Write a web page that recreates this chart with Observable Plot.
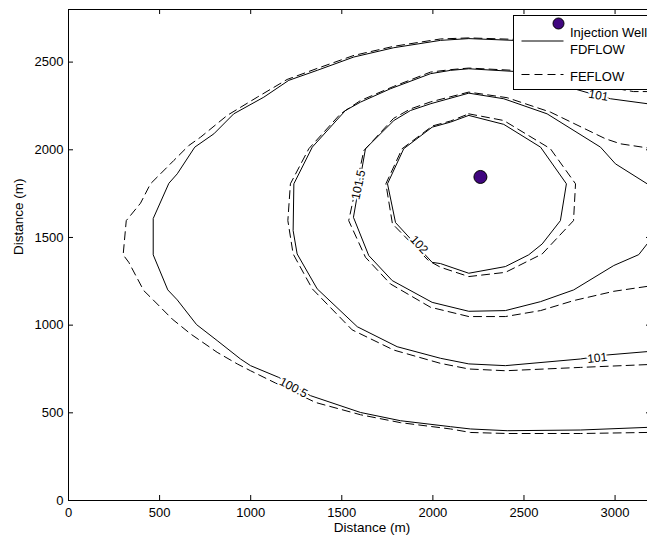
<!DOCTYPE html>
<html><head><meta charset="utf-8">
<script src="https://cdn.jsdelivr.net/npm/d3@7"></script>
<script src="https://cdn.jsdelivr.net/npm/@observablehq/plot@0.6"></script>
<style>
html,body{margin:0;padding:0;overflow:hidden;background:#fff;}
#wrap{position:relative;width:647px;height:542px;overflow:hidden;font-family:"Liberation Sans",Arial,sans-serif;}
#legend{position:absolute;left:513px;top:15px;width:200px;height:75px;border:1px solid #000;background:#fff;box-sizing:border-box;}
#legend svg{position:absolute;left:0;top:0;overflow:visible;}
</style></head><body><div id="wrap"></div>
<script>
// axis ticks
const xTicks = [0, 500, 1000, 1500, 2000, 2500, 3000];
const yTicks = [0, 500, 1000, 1500, 2000, 2500];
const axisTitleX = "Distance (m)";
const axisTitleY = "Distance (m)";
const legendLabels = ["Injection Well", "FDFLOW", "FEFLOW"];

// injection well location (m)
const well = [[2261, 1845]];

// FDFLOW contours (solid)
const fd1005 = [[3176,417],[2810,402],[2408,398],[2206,408],[2097,421],[1822,455],[1603,502],[1328,598],[1154,702],[999,769],[944,807],[816,912],[703,1003],[597,1144],[545,1201],[465,1401],[465,1608],[551,1809],[597,1863],[693,2015],[798,2091],[907,2205],[1072,2300],[1209,2396],[1365,2453],[1566,2529],[1785,2582],[2042,2624],[2197,2634],[2442,2624],[2650,2610]];
const fd101 = [[3176,849],[2957,830],[2810,807],[2398,769],[2197,779],[2042,811],[1804,877],[1585,991],[1365,1207],[1255,1406],[1233,1539],[1237,1806],[1338,2015],[1520,2224],[1603,2272],[1767,2348],[1987,2434],[2097,2453],[2197,2462],[2444,2447],[2865,2321],[2975,2291],[3176,2263]];
const fd1015 = [[3176,1463],[3130,1402],[2993,1340],[2773,1201],[2591,1134],[2398,1083],[2197,1079],[1996,1130],[1777,1254],[1648,1397],[1564,1615],[1630,2006],[1786,2167],[1877,2224],[1989,2263],[2197,2323],[2389,2291],[2627,2205],[2920,2015],[3002,1920],[3176,1806]];
const fd102 = [[2197,2196],[2389,2145],[2591,2015],[2733,1806],[2700,1596],[2600,1463],[2526,1401],[2398,1334],[2197,1296],[2042,1351],[1996,1358],[1795,1585],[1751,1806],[1840,2006],[1996,2129],[2097,2158],[2197,2196]];

// FEFLOW contours (dashed)
const fe1005 = [[3176,388],[2810,382],[2408,382],[2206,388],[2097,408],[1822,444],[1603,489],[1356,559],[1136,670],[999,740],[926,779],[816,845],[670,950],[569,1035],[459,1150],[413,1197],[331,1358],[300,1401],[317,1596],[395,1695],[450,1806],[505,1863],[578,1939],[660,2024],[725,2072],[871,2196],[1036,2300],[1200,2401],[1365,2464],[1566,2538],[1785,2590],[2042,2632],[2197,2638],[2442,2630],[2650,2615]];
const fe101 = [[3176,775],[2810,759],[2398,740],[2197,750],[2042,782],[1785,858],[1557,973],[1338,1207],[1233,1406],[1204,1596],[1218,1806],[1319,2006],[1493,2205],[1603,2281],[1784,2361],[1987,2443],[2097,2457],[2197,2466],[2444,2453],[3101,2332],[3176,2332]];
const fe1015 = [[3176,1221],[2993,1193],[2773,1140],[2591,1083],[2398,1049],[2197,1049],[1987,1102],[1767,1235],[1630,1387],[1538,1596],[1621,1995],[1784,2179],[1877,2233],[1987,2273],[2197,2329],[2408,2297],[2645,2215],[2947,2063],[3030,2034],[3176,2011]];
const fe102 = [[2197,2205],[2389,2167],[2645,2006],[2783,1806],[2772,1596],[2600,1406],[2398,1301],[2197,1277],[2042,1330],[1976,1368],[1778,1578],[1742,1806],[1831,2006],[1998,2136],[2097,2164],[2197,2205]];

// contour labels
const labelText = ["100.5", "101", "101", "101.5", "102"];
const labelX = [1235, 2902, 2909, 1592, 1924];
const labelY = [643, 812, 2310, 1800, 1459];
const labelAngle = [28, -6, 10, -78, 47];

// build tables
const contourSets = [
  {id: "fd1005", model: "FDFLOW", pts: fd1005},
  {id: "fd101", model: "FDFLOW", pts: fd101},
  {id: "fd1015", model: "FDFLOW", pts: fd1015},
  {id: "fd102", model: "FDFLOW", pts: fd102},
  {id: "fe1005", model: "FEFLOW", pts: fe1005},
  {id: "fe101", model: "FEFLOW", pts: fe101},
  {id: "fe1015", model: "FEFLOW", pts: fe1015},
  {id: "fe102", model: "FEFLOW", pts: fe102}
];
const rows = contourSets.flatMap(c => c.pts.map(([x, y]) => ({x, y, id: c.id, model: c.model})));
const labels = labelText.map((t, i) => ({t, x: labelX[i], y: labelY[i], a: labelAngle[i]}));
const dash = "8,5";
const wellColor = "#40067f";
const fmt = d => String(d);

const W = 652, H = 542, mL = 68, mR = 1, mT = 9, mB = 42;
const plotW = W - mL - mR, plotH = H - mT - mB, tickLen = 5;

const chart = Plot.plot({
  width: W, height: H,
  marginLeft: mL, marginRight: mR, marginTop: mT, marginBottom: mB,
  style: {fontFamily: "'Liberation Sans', Arial, sans-serif", fontSize: "13px", color: "black", background: "white", maxWidth: "none", overflow: "hidden"},
  x: {domain: [0, 3200]},
  y: {domain: [0, 2800]},
  marks: [
    Plot.line(rows.filter(d => d.model === "FDFLOW"), {x: "x", y: "y", z: "id", stroke: "black", strokeWidth: 1, clip: true}),
    Plot.line(rows.filter(d => d.model === "FEFLOW"), {x: "x", y: "y", z: "id", stroke: "black", strokeWidth: 1, strokeDasharray: dash, clip: true}),
    Plot.text(labels, {x: "x", y: "y", text: "t", rotate: "a", fontSize: 12, fill: "black", stroke: "white", strokeWidth: 4, paintOrder: "stroke"}),
    Plot.dot(well, {x: d => d[0], y: d => d[1], r: 6.5, fill: wellColor, stroke: "black", strokeWidth: 1}),
    Plot.frame({stroke: "black"}),
    Plot.tickX(xTicks, {x: d => d, insetTop: plotH - tickLen, stroke: "black"}),
    Plot.tickX(xTicks, {x: d => d, insetBottom: plotH - tickLen, stroke: "black"}),
    Plot.tickY(yTicks, {y: d => d, insetRight: plotW - tickLen, stroke: "black"}),
    Plot.tickY(yTicks, {y: d => d, insetLeft: plotW - tickLen, stroke: "black"}),
    Plot.axisX(xTicks, {anchor: "bottom", tickSize: 0, tickPadding: 7, label: null, tickFormat: fmt, fontSize: 13}),
    Plot.axisY(yTicks, {anchor: "left", tickSize: 0, tickPadding: 5, label: null, tickFormat: fmt, fontSize: 13}),
    Plot.text([axisTitleX], {frameAnchor: "bottom", dy: 31, dx: 12, fontSize: 13.5}),
    Plot.text([axisTitleY], {frameAnchor: "left", rotate: -90, dx: -50, fontSize: 13.5})
  ]
});
const wrap = document.getElementById("wrap");
wrap.appendChild(chart);

// legend
const leg = document.createElement("div");
leg.id = "legend";
const ns = "http://www.w3.org/2000/svg";
const svg = document.createElementNS(ns, "svg");
svg.setAttribute("width", 200); svg.setAttribute("height", 75);
function el(tag, attrs, txt) {
  const e = document.createElementNS(ns, tag);
  for (const k in attrs) e.setAttribute(k, attrs[k]);
  if (txt != null) e.textContent = txt;
  svg.appendChild(e);
  return e;
}
const fs = 13;
el("circle", {cx: 44.5, cy: 7.5, r: 5.5, fill: wellColor, stroke: "black", "stroke-width": 1});
el("text", {x: 56, y: 20.5, "font-size": fs, "font-family": "'Liberation Sans', Arial, sans-serif"}, legendLabels[0]);
el("line", {x1: 7.5, x2: 49.5, y1: 25, y2: 25, stroke: "black", "stroke-width": 1});
el("text", {x: 56, y: 37.5, "font-size": fs, "font-family": "'Liberation Sans', Arial, sans-serif"}, legendLabels[1]);
el("line", {x1: 7.5, x2: 49.5, y1: 58.5, y2: 58.5, stroke: "black", "stroke-width": 1, "stroke-dasharray": dash});
el("text", {x: 56, y: 64.5, "font-size": fs, "font-family": "'Liberation Sans', Arial, sans-serif"}, legendLabels[2]);
leg.appendChild(svg);
wrap.appendChild(leg);
</script>
</body></html>
